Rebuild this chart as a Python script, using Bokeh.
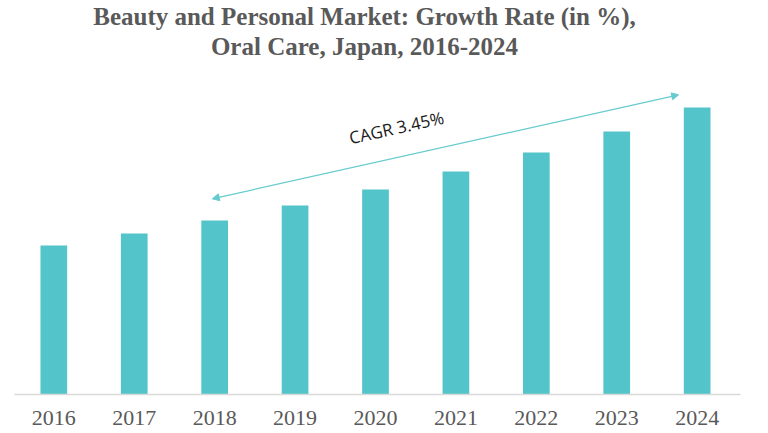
from bokeh.plotting import figure
from bokeh.models import Range1d, FixedTicker, Label, Arrow, NormalHead
from bokeh.embed import file_html
from bokeh.resources import INLINE

# ---- data ----
years = [2016, 2017, 2018, 2019, 2020, 2021, 2022, 2023, 2024]
values = [14.9, 16.1, 17.4, 18.9, 20.5, 22.3, 24.2, 26.3, 28.7]
tick_labels = [str(y) for y in years]
title_line1 = "Beauty and Personal Market: Growth Rate (in %),"
title_line2 = "Oral Care, Japan, 2016-2024"
cagr_text = "CAGR 3.45%"

BAR = "#53C4C9"
GREY = "#595959"

p = figure(width=768, height=433, output_backend="svg", toolbar_location=None,
           x_range=Range1d(2015.511, 2024.539), y_range=Range1d(0, 39.4),
           y_axis_location=None, min_border_left=14, min_border_right=28,
           min_border_top=0, min_border_bottom=39)
p.outline_line_color = None
p.xgrid.visible = False
p.ygrid.visible = False
p.background_fill_color = "white"
p.border_fill_color = "white"

p.vbar(x=years, top=values, width=0.332, fill_color=BAR, line_color=None)

ax = p.xaxis[0]
ax.ticker = FixedTicker(ticks=years)
ax.major_label_overrides = {y: t for y, t in zip(years, tick_labels)}
ax.major_tick_line_color = None
ax.minor_tick_line_color = None
ax.axis_line_color = "#d9d9d9"
ax.axis_line_width = 1.5
ax.major_label_text_font = "Liberation Serif"
ax.major_label_text_font_size = "22px"
ax.major_label_text_color = GREY
ax.major_label_standoff = 10

# titles
p.add_layout(Label(x=2019.863, y=37.85, text=title_line1, text_align="center",
                   text_baseline="alphabetic", text_font="Liberation Serif",
                   text_font_style="bold", text_font_size="25px", text_color=GREY))
p.add_layout(Label(x=2019.863, y=34.8, text=title_line2, text_align="center",
                   text_baseline="alphabetic", text_font="Liberation Serif",
                   text_font_style="bold", text_font_size="25px", text_color=GREY))

# CAGR arrow
ARROW_C = "#66CBCE"
p.add_layout(Arrow(x_start=2017.97, y_start=19.57, x_end=2023.77, y_end=29.97,
                   line_color=ARROW_C, line_width=1.2,
                   start=NormalHead(size=7, fill_color=ARROW_C, line_color=ARROW_C),
                   end=NormalHead(size=7, fill_color=ARROW_C, line_color=ARROW_C)))
p.add_layout(Label(x=2020.26, y=26.7, text=cagr_text, angle=12.5, angle_units="deg",
                   text_align="center", text_baseline="middle", text_font="Open Sans",
                   text_font_size="17px", text_color="#1a1a1a"))

open("out.html", "w").write(file_html(p, INLINE))
